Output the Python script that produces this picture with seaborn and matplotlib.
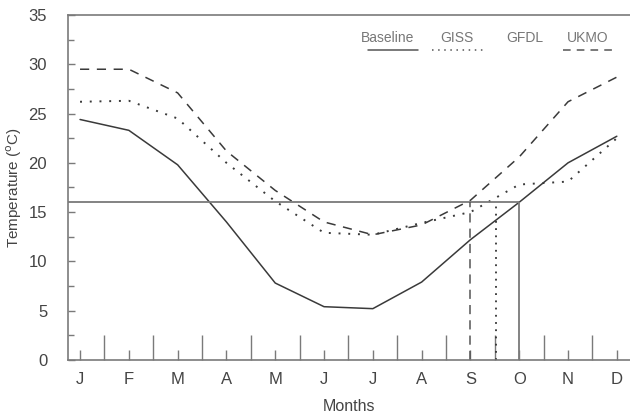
import matplotlib
matplotlib.use("Agg")
import matplotlib.pyplot as plt
from matplotlib.lines import Line2D
import seaborn as sns
import pandas as pd
import numpy as np

months = ["J", "F", "M", "A", "M", "J", "J", "A", "S", "O", "N", "D"]
baseline = [24.4, 23.3, 19.8, 14.0, 7.8, 5.4, 5.2, 7.9, 12.2, 16.0, 20.0, 22.7]
giss = [26.2, 26.3, 24.5, 20.0, 16.1, 12.9, 12.7, 13.9, 15.0, 17.8, 18.1, 22.5]
ukmo = [29.5, 29.5, 27.1, 21.2, 17.2, 14.0, 12.7, 13.7, 16.2, 20.6, 26.2, 28.7]
threshold = 16.0
crossings = {"UKMO": 8.0, "GISS": 8.52, "Baseline": 9.0}

sns.set_style("white")
plt.rcParams["font.family"] = ["Liberation Sans", "DejaVu Sans"]

fig = plt.figure(figsize=(6.3, 4.18), dpi=100)
ax = fig.add_axes([0.108, 0.139, 0.892, 0.825])

x = np.arange(len(months))
df = pd.DataFrame({"month": x, "Baseline": baseline, "GISS": giss, "UKMO": ukmo})

lc = "#3a3a3a"
sns.lineplot(data=df, x="month", y="Baseline", ax=ax, color=lc, lw=1.1)
sns.lineplot(data=df, x="month", y="GISS", ax=ax, color=lc, lw=1.4,
             linestyle=(0, (1, 4)))
sns.lineplot(data=df, x="month", y="UKMO", ax=ax, color=lc, lw=1.1,
             linestyle=(0, (6, 5)))

xl = (-0.246, 11.27)
ax.set_xlim(*xl)
ax.set_ylim(0, 35)

gc = "#7a7a7a"
ax.hlines(threshold, xl[0], crossings["Baseline"], color=gc, lw=1.3)
ax.vlines(crossings["Baseline"], 0, threshold, color=gc, lw=1.3)
ax.vlines(crossings["UKMO"], 0, threshold, color="#555555", lw=1.1,
          linestyles=[(0, (6, 4))])
ax.vlines(crossings["GISS"], 0, threshold, color="#333333", lw=1.3,
          linestyles=[(0, (1, 3))])

ax.spines["right"].set_visible(False)
for side in ["left", "bottom", "top"]:
    ax.spines[side].set_color(gc)
    ax.spines[side].set_linewidth(1.2)

tcol = "#444444"
ax.set_xticks(x)
ax.set_xticklabels(months)
ax.set_xticks(x[:-1] + 0.5, minor=True)
ax.set_yticks(np.arange(0, 36, 5))
ax.set_yticks(np.arange(2.5, 35, 5), minor=True)
ax.tick_params(axis="x", which="major", direction="in", length=7, width=1,
               color=gc, pad=9, labelsize=12, labelcolor=tcol)
ax.tick_params(axis="x", which="minor", direction="in", length=18, width=1,
               color=gc)
ax.tick_params(axis="y", which="major", direction="in", length=5, width=1,
               color=gc, pad=15, labelsize=12, labelcolor=tcol)
ax.tick_params(axis="y", which="minor", direction="in", length=4, width=1,
               color=gc)
ax.tick_params(bottom=True, left=True, which="both")

ax.set_xlabel("Months", fontsize=11.5, color=tcol, labelpad=8)
ax.set_ylabel(r"Temperature ($^{\rm o}$C)", fontsize=11, color=tcol,
              labelpad=3)

# legend
tc = "#777777"
labels = ["Baseline", "GISS", "GFDL", "UKMO"]
tx = [0.569, 0.692, 0.813, 0.925]
for lab, xx in zip(labels, tx):
    ax.text(xx, 0.933, lab, transform=ax.transAxes, ha="center", va="center",
            fontsize=10, color=tc)
samples = [((0.534, 0.623), "-"), ((0.648, 0.742), (0, (1, 3))),
           ((0.881, 0.977), (0, (5, 4)))]
for (x0, x1), ls in samples:
    ax.add_line(Line2D([x0, x1], [0.899, 0.899], transform=ax.transAxes,
                       color="#555555", lw=1.1, linestyle=ls))

fig.savefig("out.png", dpi=100)
